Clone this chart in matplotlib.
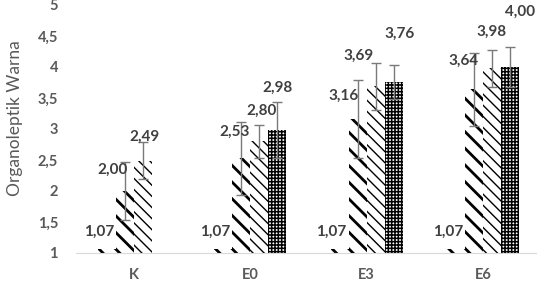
import numpy as np
import matplotlib
matplotlib.use('Agg')
import matplotlib.pyplot as plt

categories = ["K", "E0", "E3", "E6"]
# four series per group (bar order left to right)
s1_vals = [1.07, 1.07, 1.07, 1.07]
s2_vals = [2.00, 2.53, 3.16, 3.64]
s3_vals = [2.49, 2.80, 3.69, 3.98]
s4_vals = [1.005, 2.98, 3.76, 4.00]
s1_err = [0.0, 0.0, 0.0, 0.0]
s2_err = [0.47, 0.59, 0.63, 0.59]
s3_err = [0.30, 0.26, 0.38, 0.30]
s4_err = [0.0, 0.45, 0.28, 0.32]
s1_text = ["1,07", "1,07", "1,07", "1,07"]
s2_text = ["2,00", "2,53", "3,16", "3,64"]
s3_text = ["2,49", "2,80", "3,69", "3,98"]
s4_text = ["", "2,98", "3,76", "4,00"]

# label placement (layout only): shift in bar widths (x) and data units (y) above the value
lab_dx = [[-0.45, -0.45, -0.45, -0.45],
          [-0.70, -0.35, -0.80, -0.55],
          [0.05, 0.10, -0.95, 0.0],
          [0.0, 0.0, 0.35, 0.55]]
lab_dy = [[0.28, 0.28, 0.28, 0.28],
          [0.35, 0.42, 0.37, 0.46],
          [0.38, 0.49, 0.49, 0.58],
          [0.0, 0.68, 0.77, 0.89]]

plt.rcParams['font.family'] = ['Lato', 'DejaVu Sans']

fig = plt.figure(figsize=(5.37, 2.84), dpi=100)
ax = fig.add_axes([76/537, 1-253/284, 465/537, 248/284])

x = np.arange(len(categories))
w = 0.155
series = [s1_vals, s2_vals, s3_vals, s4_vals]
errs = [s1_err, s2_err, s3_err, s4_err]
texts = [s1_text, s2_text, s3_text, s4_text]
hatches = ['\\\\', '\\\\', '\\\\\\', '+++++']
hlw = [2.0, 2.0, 1.0, 1.1]

for k, (vals, err, txt) in enumerate(zip(series, errs, texts)):
    pos = x + (k - 1.5) * w
    bars = ax.bar(pos, vals, w, color='white', edgecolor='black', linewidth=0,
                  hatch=hatches[k], zorder=2)
    for b in bars:
        if hasattr(b, 'set_hatch_linewidth'):
            b.set_hatch_linewidth(hlw[k])
    e = np.array(err)
    m = e > 0
    ax.errorbar(pos[m], np.array(vals)[m], yerr=e[m], fmt='none', ecolor='#7a7a7a',
                elinewidth=1.0, capsize=3.5, capthick=1.0, zorder=3)
    for i, t in enumerate(txt):
        if t:
            ax.text(pos[i] + lab_dx[k][i] * w, vals[i] + lab_dy[k][i], t,
                    ha='center', va='center', fontsize=11, fontweight='bold',
                    color='#404040', zorder=4)

ax.set_xlim(-0.5, 3.5)
ax.set_ylim(1, 5)
ax.set_yticks([1, 1.5, 2, 2.5, 3, 3.5, 4, 4.5, 5])
ax.set_yticklabels(["1", "1,5", "2", "2,5", "3", "3,5", "4", "4,5", "5"])
ax.set_xticks(x)
ax.set_xticklabels(categories)
for lab in ax.get_xticklabels() + ax.get_yticklabels():
    lab.set_fontweight('bold')
    lab.set_color('#595959')
    lab.set_fontsize(10.5)
ax.tick_params(axis='both', length=0)
ax.tick_params(axis='y', pad=13)
ax.tick_params(axis='x', pad=11)
for sp in ['top', 'right', 'left']:
    ax.spines[sp].set_visible(False)
ax.spines['bottom'].set_color('#d9d9d9')
ax.spines['bottom'].set_zorder(5)
fig.text(15/537, 1-118/284, "Organoleptik Warna", rotation=90, ha='center', va='center',
         fontsize=12.5, color='#595959')

fig.savefig('out.png', dpi=100)
